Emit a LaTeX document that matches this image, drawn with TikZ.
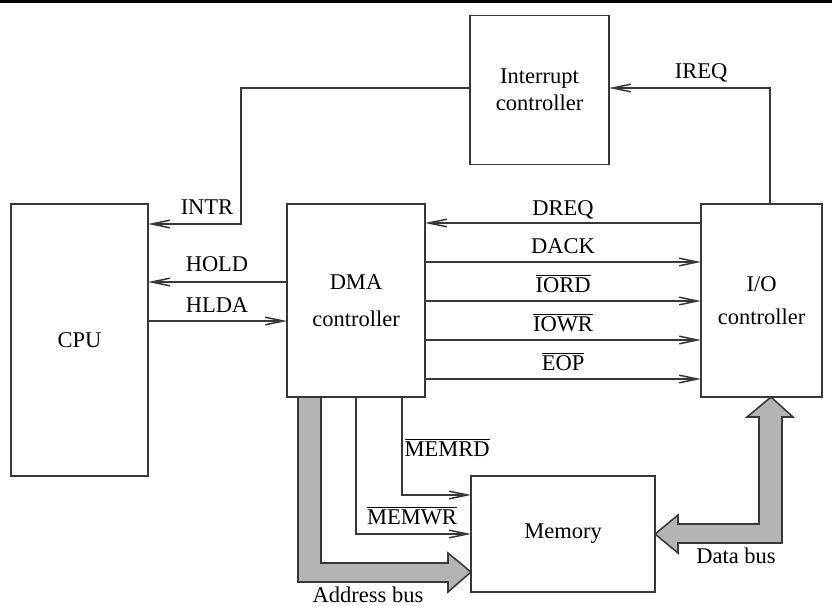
\documentclass[tikz,border=0pt]{standalone}
\usepackage{fontspec}
\setmainfont{Liberation Serif}
\usetikzlibrary{arrows.meta}

\begin{document}
\begin{tikzpicture}[x=0.025cm,y=-0.025cm,
    unitBox/.style={draw=lineColour,line width=1.1pt,inner sep=0pt,outer sep=0pt,
        align=center,font=\fontsize{16}{19}\selectfont},
    signalLine/.style={draw=lineColour,line width=1.1pt,
        -{Straight Barb[length=4.5mm,width=1.9mm]}},
    sigLabel/.style={inner sep=0pt,anchor=base,font=\fontsize{16}{19}\selectfont},
    busArrow/.style={fill=busFill,draw=lineColour,line width=1.1pt,line join=miter}]
    \definecolor{lineColour}{HTML}{383838}
    \definecolor{busFill}{HTML}{B4B4B4}

    % Frame and rule at the top
    \useasboundingbox (0,0) rectangle (832,605);
    \draw[black,line width=0.075cm] (0,1.5) -- (832,1.5);

    % Units
    \node[unitBox,minimum width=3.425cm,minimum height=6.8cm] (cpu) at (79.5,340) {CPU};
    \node[unitBox,minimum width=3.45cm,minimum height=4.825cm] (dma) at (356,300.5) {DMA\\[7pt]controller};
    \node[unitBox,minimum width=3.475cm,minimum height=3.725cm] (intc) at (539.5,90) {Interrupt\\controller};
    \node[unitBox,minimum width=3.025cm,minimum height=4.825cm] (io) at (761.5,300.5) {I/O\\[4pt]controller};
    \node[unitBox,minimum width=4.6cm,minimum height=2.9cm] (mem) at (563,534) {Memory};

    % Interrupt path
    \coordinate (intrBend) at (241,224);
    \draw[signalLine] (io.north -| 770,0) |- (intc.east |- 0,88);
    \draw[signalLine] (intc.west |- 0,88) -| (intrBend) -- (cpu.east |- intrBend);
    \node[sigLabel] (ireq) at (701,78) {IREQ};
    \node[sigLabel] (intr) at (207,214) {INTR};

    % CPU <-> DMA
    \draw[signalLine] (dma.west |- 0,282) -- (cpu.east |- 0,282);
    \draw[signalLine] (cpu.east |- 0,321) -- (dma.west |- 0,321);
    \node[sigLabel] (hold) at (217,271) {HOLD};
    \node[sigLabel] (hlda) at (217,312) {HLDA};

    % DMA <-> I/O
    \draw[signalLine] (io.west |- 0,223) -- (dma.east |- 0,223);
    \node[sigLabel] (dreq) at (563,215) {DREQ};
    \foreach \y/\sigName/\sigText in {262/dack/DACK,
            301/iord/{$\overline{\mbox{IORD}}$},
            340/iowr/{$\overline{\mbox{IOWR}}$},
            379/eop/{$\overline{\mbox{EOP}}$}} {
        \draw[signalLine] (dma.east |- 0,\y) -- (io.west |- 0,\y);
        \node[sigLabel] (\sigName) at (563,\y-9) {\sigText};
    }

    % DMA -> memory
    \draw[signalLine] (dma.south -| 402,0) |- (mem.west |- 0,495);
    \draw[signalLine] (dma.south -| 356,0) |- (mem.west |- 0,534);
    \node[sigLabel] (memrd) at (447,456) {$\overline{\mbox{MEMRD}}$};
    \node[sigLabel] (memwr) at (412,524) {$\overline{\mbox{MEMWR}}$};

    % Address bus
    \filldraw[busArrow] (dma.south -| 298,0) -- (298,582) -- (448,582) -- (448,592)
        -- (mem.west |- 0,572) -- (448,553) -- (448,563) -- (321,563)
        -- (dma.south -| 321,0) -- cycle;
    \node[sigLabel] (addrbus) at (368,602) {Address bus};

    % Data bus
    \filldraw[busArrow] (io.south -| 771,0) -- (793,417) -- (782,417) -- (782,543)
        -- (678,543) -- (678,553) -- (mem.east |- 0,534) -- (678,515) -- (678,524)
        -- (759,524) -- (759,417) -- (747,417) -- cycle;
    \node[sigLabel] (databus) at (736,563) {Data bus};

\end{tikzpicture}
\end{document}
